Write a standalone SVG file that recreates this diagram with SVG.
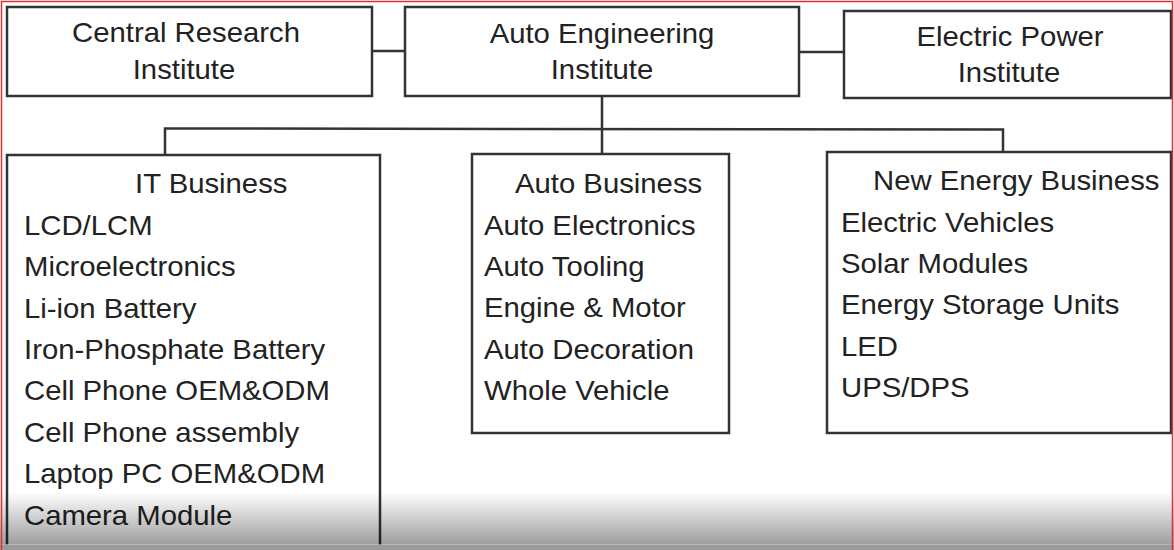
<svg xmlns="http://www.w3.org/2000/svg" width="1174" height="550" viewBox="0 0 1174 550">
  <defs>
    <style>
      .box { fill: #ffffff; stroke: #333333; stroke-width: 2.5; }
      .conn { fill: none; stroke: #333333; stroke-width: 2.5; }
      .t { font-family: "Liberation Sans", Arial, sans-serif; font-size: 27px; fill: #222222; }
      .c { text-anchor: middle; }
    </style>
    <linearGradient id="fade" x1="0" y1="0" x2="0" y2="1">
      <stop offset="0" stop-color="#000000" stop-opacity="0"/>
      <stop offset="0.85" stop-color="#000000" stop-opacity="0.36"/>
      <stop offset="1" stop-color="#000000" stop-opacity="0.38"/>
    </linearGradient>
  </defs>
  <rect x="0" y="0" width="1174" height="550" fill="#ffffff"/>

  <g id="connectors">
    <line class="conn" x1="372" y1="51" x2="405" y2="51"/>
    <line class="conn" x1="799" y1="52" x2="844" y2="52"/>
    <line class="conn" x1="602" y1="96" x2="602" y2="154"/>
    <polyline class="conn" points="165,154 165,128.5 1003,129.5 1003,153"/>
  </g>

  <g id="central-research">
    <rect class="box" x="7" y="7" width="365" height="89"/>
    <text class="t c" transform="translate(186,42) scale(1.085,1)">Central Research</text>
    <text class="t c" transform="translate(184,79) scale(1.085,1)">Institute</text>
  </g>

  <g id="auto-engineering">
    <rect class="box" x="405" y="7" width="394" height="89"/>
    <text class="t c" transform="translate(602,43) scale(1.085,1)">Auto Engineering</text>
    <text class="t c" transform="translate(602,79) scale(1.085,1)">Institute</text>
  </g>

  <g id="electric-power">
    <rect class="box" x="844" y="11" width="327" height="87"/>
    <text class="t c" transform="translate(1010,46) scale(1.085,1)">Electric Power</text>
    <text class="t c" transform="translate(1009,82) scale(1.085,1)">Institute</text>
  </g>

  <g id="it-business">
    <rect class="box" x="7" y="155" width="373" height="420"/>
    <text class="t" transform="translate(135,193) scale(1.085,1)">IT Business</text>
    <text class="t" transform="translate(24,235) scale(1.085,1)">LCD/LCM</text>
    <text class="t" transform="translate(24,276) scale(1.085,1)">Microelectronics</text>
    <text class="t" transform="translate(24,318) scale(1.085,1)">Li-ion Battery</text>
    <text class="t" transform="translate(24,359) scale(1.085,1)">Iron-Phosphate Battery</text>
    <text class="t" transform="translate(24,400) scale(1.085,1)">Cell Phone OEM&amp;ODM</text>
    <text class="t" transform="translate(24,442) scale(1.085,1)">Cell Phone assembly</text>
    <text class="t" transform="translate(24,483) scale(1.085,1)">Laptop PC OEM&amp;ODM</text>
    <text class="t" transform="translate(24,525) scale(1.085,1)">Camera Module</text>
  </g>

  <g id="auto-business">
    <rect class="box" x="472" y="154" width="257" height="279"/>
    <text class="t" transform="translate(515,193) scale(1.085,1)">Auto Business</text>
    <text class="t" transform="translate(484,235) scale(1.085,1)">Auto Electronics</text>
    <text class="t" transform="translate(484,276) scale(1.085,1)">Auto Tooling</text>
    <text class="t" transform="translate(484,317) scale(1.085,1)">Engine &amp; Motor</text>
    <text class="t" transform="translate(484,359) scale(1.085,1)">Auto Decoration</text>
    <text class="t" transform="translate(484,400) scale(1.085,1)">Whole Vehicle</text>
  </g>

  <g id="new-energy-business">
    <rect class="box" x="827" y="152" width="344" height="281"/>
    <text class="t" transform="translate(873,190) scale(1.085,1)">New Energy Business</text>
    <text class="t" transform="translate(841,232) scale(1.085,1)">Electric Vehicles</text>
    <text class="t" transform="translate(841,273) scale(1.085,1)">Solar Modules</text>
    <text class="t" transform="translate(841,314) scale(1.085,1)">Energy Storage Units</text>
    <text class="t" transform="translate(841,356) scale(1.085,1)">LED</text>
    <text class="t" transform="translate(841,397) scale(1.085,1)">UPS/DPS</text>
  </g>

  <rect x="0" y="492" width="1174" height="58" fill="url(#fade)"/>
  <line x1="0" y1="544.5" x2="1174" y2="544.5" stroke="#c8c8c8" stroke-width="1" opacity="0.6"/>
  <rect x="0" y="545" width="1174" height="5" fill="#9a9a9a"/>

  <polyline points="1.5,550 1.5,1.5 1172.5,1.5 1172.5,550" fill="none" stroke="#e03030" stroke-width="1.5"/>
</svg>
